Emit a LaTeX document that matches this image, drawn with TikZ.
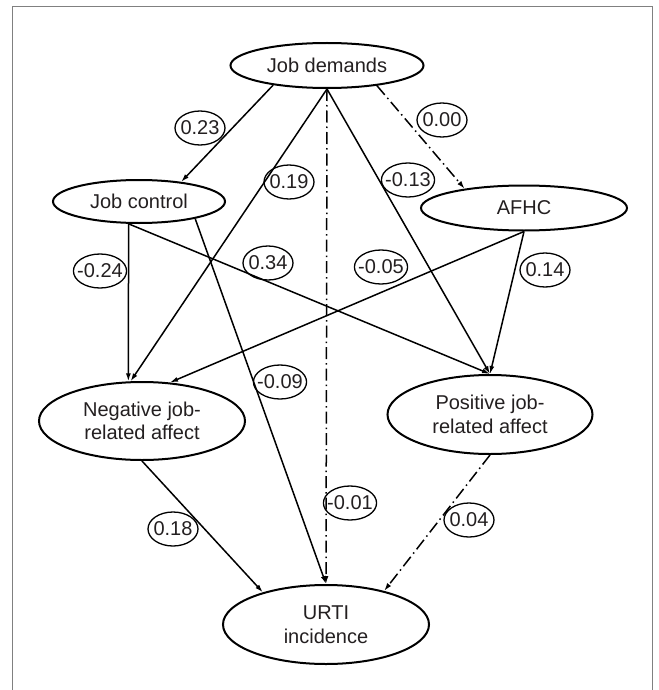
\documentclass[tikz,border=0pt]{standalone}
\usepackage{fontspec}
\setmainfont{Liberation Sans}
\usetikzlibrary{shapes.geometric,arrows.meta}
\definecolor{txt}{RGB}{35,31,32}
\definecolor{frm}{RGB}{128,128,128}
\begin{document}
\begin{tikzpicture}[x=1bp,y=-1bp,
  var/.style={ellipse,draw,line width=2bp,inner sep=2bp,font=\fontsize{20bp}{23.5bp}\selectfont,text=txt,align=center},
  lab/.style={ellipse,draw,line width=1.3bp,inner xsep=-4bp,inner ysep=0bp,minimum width=50bp,minimum height=34bp,font=\fontsize{20bp}{23.5bp}\selectfont,text=txt},
  con/.style={line width=1.5bp,-{Latex[length=8bp,width=5bp]}},
  dd/.style={con,dash pattern=on 12bp off 4bp on 1.5bp off 4bp}]
\useasboundingbox (0,0) rectangle (659,690);
\draw[frm,line width=1.5bp] (12.7,690) -- (12.7,6.7) -- (652.7,6.7) -- (652.7,690);

\node[var,minimum width=193bp,minimum height=45bp] (jd) at (327,65.5) {Job demands};
\node[var,minimum width=172bp,minimum height=43bp] (jc) at (139,201.5) {Job control};
\node[var,minimum width=206bp,minimum height=45bp] (afhc) at (524,208) {AFHC};
\node[var,minimum width=206bp,minimum height=78bp] (neg) at (142,421) {Negative job-\\related affect};
\node[var,minimum width=205bp,minimum height=79bp] (pos) at (490,414.5) {Positive job-\\related affect};
\node[var,minimum width=206bp,minimum height=79bp] (urti) at (326,624.5) {URTI\\incidence};

\draw[con] (jd.200) -- (jc.25);
\draw[dd] (jd.338) -- (afhc.162);
\draw[con] (jd.south) -- (neg.106);
\draw[dd] (jd.south) -- (urti.north);
\draw[con] (jd.south) -- (pos.north);
\draw[con] (jc.245) -- (neg.109);
\draw[con] (jc.245) -- (pos.north);
\draw[con] (jc.343) -- (urti.north);
\draw[con] (afhc.south) -- (neg.54);
\draw[con] (afhc.south) -- (pos.north);
\draw[con] (neg.south) -- (urti.153);
\draw[dd] (pos.south) -- (urti.30);

\node[lab] (l023) at (200,128) {0.23};
\node[lab] (l000) at (442,120) {0.00};
\node[lab] (l019) at (289,182) {0.19};
\node[lab] (l013) at (408,180) {-0.13};
\node[lab] (l024) at (100,271) {-0.24};
\node[lab] (l034) at (268,263) {0.34};
\node[lab] (l005) at (381,267) {-0.05};
\node[lab] (l014) at (545,270) {0.14};
\node[lab] (l009) at (280,382) {-0.09};
\node[lab] (l018) at (173,529) {0.18};
\node[lab] (l001) at (350,503) {-0.01};
\node[lab] (l004) at (469,520) {0.04};
\end{tikzpicture}
\end{document}
